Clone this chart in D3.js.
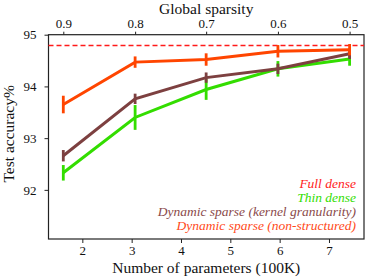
<!DOCTYPE html>
<html>
<head>
<meta charset="utf-8">
<script src="https://cdn.jsdelivr.net/npm/d3@7"></script>
<style>
  body { margin: 0; background: #fff; }
  svg { display: block; }
</style>
</head>
<body>
<div id="chart"></div>
<script>
// parameters (100K) and the matching global sparsity
const params = [1.614, 3.07, 4.51, 5.965, 7.418];
const sparsity = ["0.9", "0.8", "0.7", "0.6", "0.5"];

const fullDense = 94.79;

const nonStructured = [93.65, 94.47, 94.52, 94.68, 94.71];
const nonStructuredErr = [0.17, 0.11, 0.12, 0.12, 0.11];

const kernel = [92.66, 93.76, 94.17, 94.34, 94.63];
const kernelErr = [0.11, 0.10, 0.10, 0.10, 0.10];

const thin = [92.33, 93.40, 93.94, 94.34, 94.53];
const thinErr = [0.15, 0.24, 0.20, 0.15, 0.13];

const xTicks = [2, 3, 4, 5, 6, 7];
const yTicks = [92, 93, 94, 95];

const legendItems = [
  {label: "Full dense", color: "#ff1a1a"},
  {label: "Thin dense", color: "#33dd00"},
  {label: "Dynamic sparse (kernel granularity)", color: "#8a4a4a"},
  {label: "Dynamic sparse (non-structured)", color: "#ff4a1a"}
];

const FONT = "'Liberation Serif', 'Times New Roman', serif";

const W = 374, H = 277;
const margin = {top: 34.7, right: 10, bottom: 38, left: 48.5};
const width = W - margin.left - margin.right,
      height = H - margin.top - margin.bottom;

const svg = d3.select("#chart").append("svg")
    .attr("width", W)
    .attr("height", H);
const g = svg.append("g")
    .attr("transform", "translate(" + margin.left + "," + margin.top + ")");

const x = d3.scaleLinear().domain([1.314, 7.71]).range([0, width]);
const y = d3.scaleLinear().domain([91.05, 95.0]).range([height, 0]);

// axes
const xAxis = g.append("g")
    .attr("transform", "translate(0," + height + ")")
    .call(d3.axisBottom(x).tickValues(xTicks).tickSize(4).tickPadding(3).tickFormat(d3.format("d")));
const yAxis = g.append("g")
    .call(d3.axisLeft(y).tickValues(yTicks).tickSize(4).tickPadding(8).tickFormat(d3.format("d")));
const topAxis = g.append("g")
    .call(d3.axisTop(x).tickValues(params).tickSize(3).tickPadding(4)
      .tickFormat((d, i) => sparsity[i]));

[xAxis, yAxis, topAxis].forEach(a => {
  a.attr("font-family", null).attr("font-size", null);
  a.select(".domain").remove();
  a.selectAll(".tick line").attr("stroke", "#222").attr("stroke-width", 1);
  a.selectAll(".tick text")
      .attr("fill", "#111")
      .style("font-family", FONT)
      .style("font-size", "13px");
});

// frame
g.append("rect")
    .attr("width", width).attr("height", height)
    .attr("fill", "none").attr("stroke", "#222").attr("stroke-width", 1.2);

// full dense reference
g.append("line")
    .attr("x1", 0).attr("x2", width)
    .attr("y1", y(fullDense)).attr("y2", y(fullDense))
    .attr("stroke", "#ff1a1a").attr("stroke-width", 1.6)
    .attr("stroke-dasharray", "5,3");

const series = [
  {vals: thin, err: thinErr, color: "#33dd00"},
  {vals: kernel, err: kernelErr, color: "#7d4040"},
  {vals: nonStructured, err: nonStructuredErr, color: "#ff4500"}
];

const line = d3.line().x((d, i) => x(params[i])).y(d => y(d));

series.forEach(s => {
  g.append("path")
      .datum(s.vals)
      .attr("d", line)
      .attr("fill", "none")
      .attr("stroke", s.color)
      .attr("stroke-width", 3);
  g.selectAll(null)
      .data(s.vals)
      .enter().append("line")
      .attr("x1", (d, i) => x(params[i]))
      .attr("x2", (d, i) => x(params[i]))
      .attr("y1", (d, i) => y(d - s.err[i]))
      .attr("y2", (d, i) => y(d + s.err[i]))
      .attr("stroke", s.color)
      .attr("stroke-width", 2.8);
});

// legend, right aligned text only
const legend = g.append("g");
legend.selectAll("text")
    .data(legendItems)
    .enter().append("text")
    .attr("x", width - 8)
    .attr("y", (d, i) => 153.8 + i * 13.8)
    .attr("text-anchor", "end")
    .attr("fill", d => d.color)
    .style("font-family", FONT)
    .style("font-style", "italic")
    .style("font-size", "13.5px")
    .text(d => d.label);

// titles
svg.append("text")
    .attr("x", margin.left + width / 2)
    .attr("y", 14)
    .attr("text-anchor", "middle")
    .style("font-family", FONT)
    .style("font-size", "15.5px")
    .attr("fill", "#111")
    .text("Global sparsity");

svg.append("text")
    .attr("x", margin.left + width / 2)
    .attr("y", 273)
    .attr("text-anchor", "middle")
    .style("font-family", FONT)
    .style("font-size", "15.5px")
    .attr("fill", "#111")
    .text("Number of parameters (100K)");

svg.append("text")
    .attr("transform", "translate(14," + (margin.top + height / 2 - 3) + ") rotate(-90)")
    .attr("text-anchor", "middle")
    .style("font-family", FONT)
    .style("font-size", "15.5px")
    .attr("fill", "#111")
    .text("Test accuracy%");
</script>
</body>
</html>
